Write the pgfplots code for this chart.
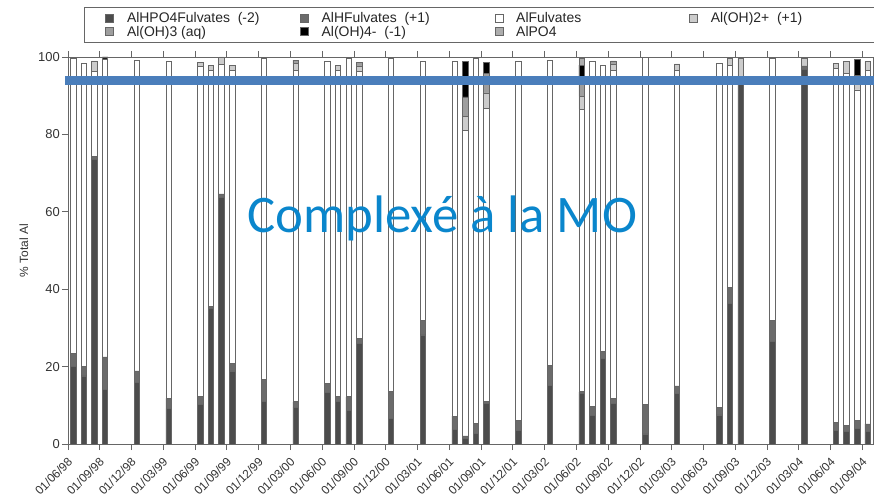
\documentclass[border=0pt]{standalone}
\usepackage{pgfplots}
\pgfplotsset{compat=1.18}
\usepackage{pgfplotstable}
\usepackage{fontspec}
\setmainfont{Liberation Sans}
\newfontfamily\bluefont{Carlito}

\definecolor{cHPO}{gray}{0.30}
\definecolor{cHF}{gray}{0.42}
\definecolor{cAF}{gray}{1.0}
\definecolor{cOH2}{gray}{0.80}
\definecolor{cOH3}{gray}{0.62}
\definecolor{cOH4}{gray}{0.0}
\definecolor{cPO4}{gray}{0.68}
\definecolor{edge}{gray}{0.40}
\definecolor{lineblue}{RGB}{74,126,187}
\definecolor{textblue}{RGB}{10,134,204}

\pgfplotstableread{
x    hpo   hf   af    oh2  oh3  oh4  po4
0.5  20.0  3.3  76.4  0    0    0    0
1.5  17.6  2.4  78.3  0    0    0    0
2.5  73.6  0.6  22.0  2.8  0    0    0
3.5  14.2  8.3  77.0  0    0    0.5  0
6.5  16.0  2.9  80.3  0    0    0    0
9.5   9.2  2.6  87.0  0    0    0    0
12.5 10.3  2.1  85.1  1.0  0    0    0
13.5 35.0  0.5  61.1  1.3  0    0    0
14.5 63.7  0.9  33.4  2.0  0    0    0
15.5 18.9  1.9  75.8  1.3  0    0    0
18.5 10.9  5.8  83.0  0    0    0    0
21.5  9.5  1.4  85.7  1.7  0.9  0    0
24.5 13.3  2.4  83.1  0    0    0    0
25.5 10.9  1.3  84.4  1.3  0    0    0
26.5  8.6  3.6  87.5  0    0    0    0
27.5 26.0  1.3  68.9  1.5  0.9  0    0
30.5  6.6  6.9  86.2  0    0    0    0
33.5 28.2  3.8  66.8  0    0    0    0
36.5  3.8  3.4  91.8  0    0    0    0
37.5  1.5  0.6  79.0  3.5  5.1  9.1  0
38.5  2.7  2.6  94.4  0    0    0    0
39.5 10.5  0.4  75.9  3.9  5.1  2.7  0
42.5  3.6  2.4  92.8  0    0    0    0
45.5 15.2  5.2  78.8  0    0    0    0
48.5 13.0  0.5  73.0  3.3  5.2  2.9  1.8
49.5  7.3  2.3  89.2  0    0    0    0
50.5 22.1  1.8  74.0  0    0    0    0
51.5 10.5  1.3  84.8  1.6  0.8  0    0
54.5  2.6  7.7  89.7  0    0    0    0
57.5 13.1  1.9  81.5  1.7  0    0    0
61.5  7.5  2.0  88.8  0    0    0    0
62.5 36.4  4.1  57.4  1.8  0    0    0
63.5 93.0  1.0  0.5   5.2  0    0    0
66.5 26.4  5.6  67.7  0    0    0    0
69.5 96.8  0.9  0     2.0  0    0    0
72.5  3.6  1.9  91.5  1.3  0    0    0
73.5  3.2  1.5  91.1  3.0  0    0    0
74.5  4.0  2.0  85.5  3.8  0    4.1  0
75.5  3.2  2.0  91.4  2.2  0    0    0
}\data

\begin{document}
\begin{tikzpicture}
\useasboundingbox (-68bp,-54bp) rectangle (806bp,444bp);
\begin{axis}[
  at={(0,0)}, anchor=south west,
  scale only axis, width=805bp, height=387bp,
  xmin=0, xmax=76, ymin=0, ymax=100,
  ybar stacked, bar width=5.5bp,
  every axis plot/.append style={draw=edge, line width=0.7bp},
  xtick={0,3,...,75},
  xticklabels={01/06/98,01/09/98,01/12/98,01/03/99,01/06/99,01/09/99,01/12/99,01/03/00,01/06/00,01/09/00,01/12/00,01/03/01,01/06/01,01/09/01,01/12/01,01/03/02,01/06/02,01/09/02,01/12/02,01/03/03,01/06/03,01/09/03,01/12/03,01/03/04,01/06/04,01/09/04},
  xticklabel style={xshift=-1bp, yshift=-5bp, rotate=45, anchor=north east, inner sep=1bp, font=\fontsize{12}{13}\selectfont, text=black!80},
  ytick={0,20,...,100},
  yticklabel style={font=\fontsize{13}{14}\selectfont, text=black!80, inner sep=2bp},
  /pgf/number format/assume math mode=true,
  tick align=outside, major tick length=6bp,
  tick style={draw=edge, line width=0.8bp},
  axis line style={draw=edge, line width=0.8bp},
  ylabel={\% Total Al},
  ylabel style={at={(axis description cs:-0.0547,0.5)}, anchor=center, font=\fontsize{12}{13}\selectfont, text=black!80},
  legend columns=4,
  legend cell align=left,
  legend image code/.code={\draw[#1, draw=edge, line width=0.6bp] (0bp,-4bp) rectangle (8bp,4bp);},
  legend style={at={(axis description cs:0.0199,1.1292)}, anchor=north west,
    draw=edge, line width=0.8bp, font=\fontsize{14}{14}\selectfont, text=black!85,
    inner xsep=21bp, inner ysep=4bp,
    nodes={inner sep=1bp},
    /tikz/every odd column/.append style={column sep=12bp}},
]
\addplot[fill=cHPO] table[x=x,y=hpo]{\data};
\addlegendentry{\makebox[172bp][l]{AlHPO4Fulvates\ \ (-2)}}
\addplot[fill=cHF] table[x=x,y=hf]{\data};
\addlegendentry{\makebox[172bp][l]{AlHFulvates\ \ (+1)}}
\addplot[fill=cAF] table[x=x,y=af]{\data};
\addlegendentry{\makebox[172bp][l]{AlFulvates}}
\addplot[fill=cOH2] table[x=x,y=oh2]{\data};
\addlegendentry{\makebox[152bp][l]{Al(OH)2+\ \ (+1)}}
\addplot[fill=cOH3] table[x=x,y=oh3]{\data};
\addlegendentry{Al(OH)3 (aq)}
\addplot[fill=cOH4] table[x=x,y=oh4]{\data};
\addlegendentry{Al(OH)4-\ \ (-1)}
\addplot[fill=cPO4] table[x=x,y=po4]{\data};
\addlegendentry{AlPO4}
\end{axis}
\begin{axis}[
  at={(0,0)}, anchor=south west,
  scale only axis, width=805bp, height=387bp,
  xmin=0, xmax=76, ymin=0, ymax=100,
  hide axis, clip=false]
\addplot[color=lineblue, line width=8.5bp, mark=none] coordinates {(-0.28,93.9) (76.1,93.9)};
\node[anchor=base west, inner sep=0pt, text=textblue, font=\bluefont\fontsize{53}{60}\selectfont] at (axis cs:16.9,54.65) {Complexé à la MO};
\end{axis}
\end{tikzpicture}
\end{document}
